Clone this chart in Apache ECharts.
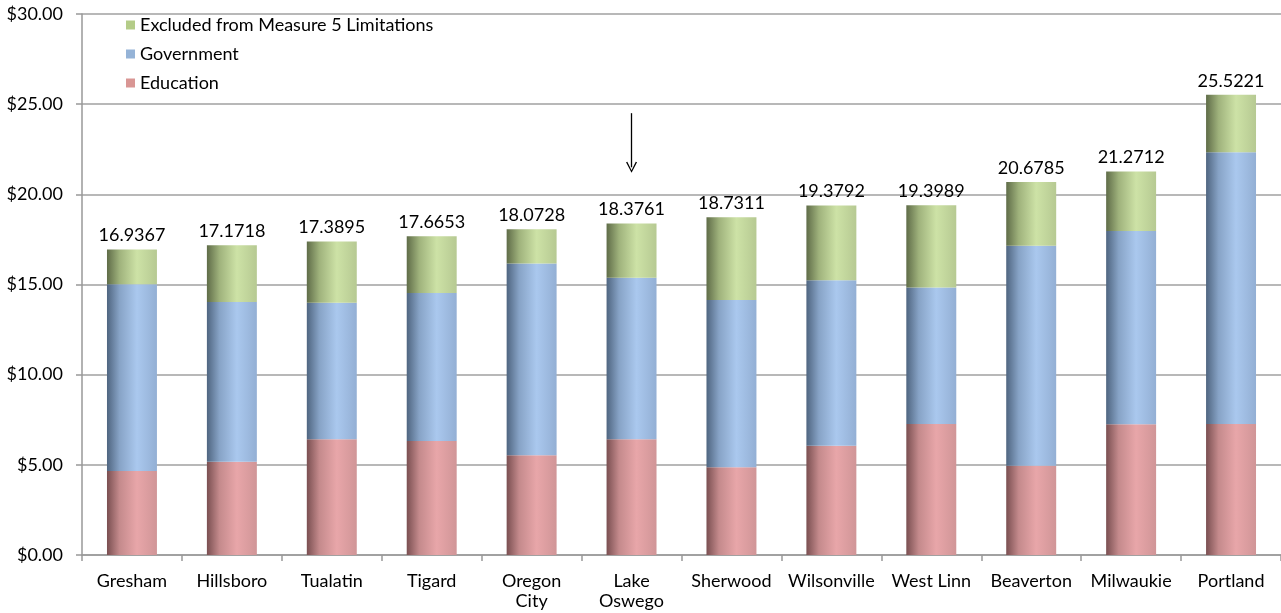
<!DOCTYPE html>
<html>
<head>
<meta charset="utf-8">
<script src="https://cdn.jsdelivr.net/npm/echarts@6/dist/echarts.min.js"></script>
<style>
html,body{margin:0;padding:0;background:#fff;}
#chart{width:1281px;height:613px;}
</style>
</head>
<body>
<div id="chart"></div>
<script>
var categories = ['Gresham','Hillsboro','Tualatin','Tigard','Oregon\nCity','Lake\nOswego','Sherwood','Wilsonville','West Linn','Beaverton','Milwaukie','Portland'];
var education  = [4.66, 5.17, 6.42, 6.32, 5.53, 6.42, 4.86, 6.06, 7.27, 4.95, 7.25, 7.27];
var government = [10.35, 8.86, 7.57, 8.21, 10.63, 8.96, 9.28, 9.17, 7.56, 12.20, 10.72, 15.06];
var excluded   = [1.93, 3.14, 3.40, 3.14, 1.91, 3.00, 4.59, 4.15, 4.57, 3.53, 3.30, 3.19];
var totals     = ['16.9367','17.1718','17.3895','17.6653','18.0728','18.3761','18.7311','19.3792','19.3989','20.6785','21.2712','25.5221'];
var yTicks     = [0, 5, 10, 15, 20, 25, 30];
var arrowFrom  = 24.5;
var arrowTo    = 21.5;

var FONT = 'Lato';
var FS = 18;
function grad(dark, mid1, peak, right) {
  return new echarts.graphic.LinearGradient(0, 0, 1, 0, [
    {offset: 0, color: dark},
    {offset: 0.25, color: mid1},
    {offset: 0.6, color: peak},
    {offset: 1, color: right}
  ]);
}
var chart = echarts.init(document.getElementById('chart'));
chart.setOption({
  animation: false,
  textStyle: {fontFamily: FONT},
  grid: {left: 82, right: 0, top: 14, bottom: 58},
  legend: {
    orient: 'vertical',
    left: 121, top: 10,
    itemWidth: 9, itemHeight: 9, itemGap: 9,
    icon: 'rect',
    textStyle: {fontFamily: FONT, fontSize: FS, color: '#000', lineHeight: 20},
    data: [
      {name: 'Excluded from Measure 5 Limitations', itemStyle: {color: '#b4cc88'}},
      {name: 'Government', itemStyle: {color: '#95b3d7'}},
      {name: 'Education', itemStyle: {color: '#d99694'}}
    ]
  },
  xAxis: {
    type: 'category',
    data: categories,
    axisLine: {lineStyle: {color: '#999', width: 1.5}},
    axisTick: {show: true, length: 6, lineStyle: {color: '#999', width: 1.5}},
    axisLabel: {fontFamily: FONT, fontSize: FS, color: '#000', margin: 16, lineHeight: 20, interval: 0}
  },
  yAxis: {
    type: 'value',
    min: yTicks[0], max: yTicks[yTicks.length - 1], interval: 5,
    axisLine: {show: true, lineStyle: {color: '#999', width: 1.5}},
    axisTick: {show: true, length: 6, lineStyle: {color: '#999', width: 1.5}},
    splitLine: {lineStyle: {color: '#a0a0a0', width: 1.5}},
    axisLabel: {fontFamily: FONT, fontSize: FS, color: '#000', margin: 19,
      formatter: function (v) { return '$' + v.toFixed(2); }}
  },
  series: [
    {
      name: 'Education', type: 'bar', stack: 's', barWidth: '50%',
      data: education,
      itemStyle: {color: grad('#7a4f51', '#c48a8c', '#e8a6a9', '#d09597')}
    },
    {
      name: 'Government', type: 'bar', stack: 's', barWidth: '50%',
      data: government,
      itemStyle: {color: grad('#4f6580', '#87a3c6', '#aac8ee', '#93afd4')}
    },
    {
      name: 'Excluded from Measure 5 Limitations', type: 'bar', stack: 's', barWidth: '50%',
      data: excluded,
      itemStyle: {color: grad('#5f6c48', '#9fb27c', '#cde2a6', '#b6c992')},
      label: {
        show: true, position: 'top', distance: 5,
        fontFamily: FONT, fontSize: FS, color: '#000',
        formatter: function (p) { return totals[p.dataIndex]; }
      },
      markLine: {
        silent: true,
        symbol: ['none', 'path://M0,12 L6,0 L12,12 L10.6,12.6 L6,3 L1.4,12.6 Z'],
        symbolSize: [11, 11],
        label: {show: false},
        lineStyle: {color: '#000', width: 1.3, type: 'solid'},
        data: [[{coord: [5, arrowFrom]}, {coord: [5, arrowTo]}]]
      }
    }
  ]
});
</script>
</body>
</html>
